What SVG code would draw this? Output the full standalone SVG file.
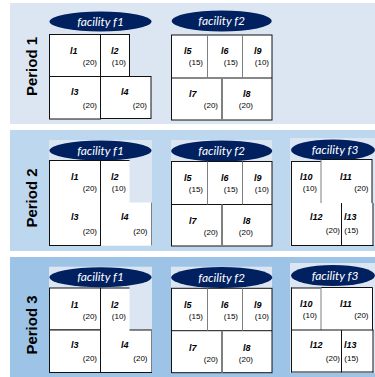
<svg xmlns="http://www.w3.org/2000/svg" width="375" height="377" viewBox="0 0 375 377">
<style>
.b1{fill:#dce6f2}.b2{fill:#bdd7ee}.b3{fill:#9dc3e6}
.panel{fill:#dce6f2}
.cell{fill:#fff;stroke:#111;stroke-width:1}
.wh{fill:#fff}
.ln{stroke:#111;stroke-width:1;fill:none}
.gr{stroke:#7f7f7f;stroke-width:1;fill:none}
.gr2{stroke:#7f7f7f;stroke-width:2;fill:none}
.ell{fill:#002060}
.ft{font-family:Lato,"Liberation Sans",sans-serif;font-style:italic;font-size:12px;fill:#fff;text-anchor:middle}
.lb{font-family:"Liberation Sans",sans-serif;font-style:italic;font-weight:bold;font-size:9px;fill:#000}
.nm{font-family:"Liberation Sans",sans-serif;font-size:8px;fill:#000;text-anchor:end}
.per{font-family:"Liberation Sans",sans-serif;font-weight:bold;font-size:15px;fill:#000;text-anchor:middle}
</style>
<rect class="b1" x="10" y="3" width="365" height="121"/>
<rect class="b2" x="10" y="130" width="365" height="121"/>
<rect class="b3" x="10" y="257" width="365" height="120"/>

<g id="period1-label"><text class="per" transform="translate(36.5,66.5) rotate(-90)">Period 1</text></g>
<g id="period2-label"><text class="per" transform="translate(36.5,198) rotate(-90)">Period 2</text></g>
<g id="period3-label"><text class="per" transform="translate(36.5,325) rotate(-90)">Period 3</text></g>

<!-- Period 1 -->
<g id="p1-f1">
<ellipse class="ell" cx="100.5" cy="21.5" rx="51" ry="10"/>
<text class="ft" x="100.5" y="25.5">facility f1</text>
<rect class="cell" x="49.5" y="34.5" width="51" height="42"/>
<rect class="cell" x="100.5" y="34.5" width="29" height="42"/>
<rect class="cell" x="49.5" y="76.5" width="51" height="42.5"/>
<rect class="cell" x="100.5" y="76.5" width="50.5" height="42"/>
<text class="lb" x="70" y="54">l1</text><text class="nm" x="97" y="65">(20)</text>
<text class="lb" x="111" y="54">l2</text><text class="nm" x="126" y="65">(10)</text>
<text class="lb" x="71" y="94.5">l3</text><text class="nm" x="97" y="107.5">(20)</text>
<text class="lb" x="121" y="94.5">l4</text><text class="nm" x="147" y="107.5">(20)</text>
</g>
<g id="p1-f2">
<ellipse class="ell" cx="221.7" cy="21" rx="50" ry="10.5"/>
<text class="ft" x="221.7" y="25">facility f2</text>
<rect class="cell" x="171.5" y="35" width="100.5" height="85"/>
<line class="ln" x1="171.5" y1="78" x2="272" y2="78"/>
<line class="gr" x1="207.5" y1="35" x2="207.5" y2="78"/>
<line class="gr" x1="242.5" y1="35" x2="242.5" y2="78"/>
<line class="gr2" x1="222" y1="78" x2="222" y2="120"/>
<text class="lb" x="184" y="54">l5</text><text class="nm" x="203" y="64.5">(15)</text>
<text class="lb" x="221" y="54">l6</text><text class="nm" x="238" y="64.5">(15)</text>
<text class="lb" x="254" y="54">l9</text><text class="nm" x="269" y="64.5">(10)</text>
<text class="lb" x="189" y="97">l7</text><text class="nm" x="218" y="108">(20)</text>
<text class="lb" x="243" y="97">l8</text><text class="nm" x="253" y="108">(20)</text>
</g>

<!-- Period 2 -->
<g id="p2-f1">
<rect class="panel" x="49" y="140" width="103" height="106"/>
<ellipse class="ell" cx="100.5" cy="150.5" rx="51" ry="10"/>
<text class="ft" x="100.5" y="154.5">facility f1</text>
<rect class="cell" x="49.5" y="160.5" width="51" height="85"/>
<polygon class="wh" points="101,161 129.5,161 129.5,202.5 152,202.5 152,245.5 101,245.5"/>
<line class="ln" x1="100.5" y1="160.5" x2="129.5" y2="160.5"/>
<line class="gr" x1="151.5" y1="202.5" x2="151.5" y2="245.5"/>
<text class="lb" x="71" y="180">l1</text><text class="nm" x="97" y="191">(20)</text>
<text class="lb" x="111" y="180">l2</text><text class="nm" x="126" y="191">(10)</text>
<text class="lb" x="71" y="220">l3</text><text class="nm" x="97" y="233.5">(20)</text>
<text class="lb" x="121" y="220">l4</text><text class="nm" x="147.5" y="233.5">(20)</text>
</g>
<g id="p2-f2">
<rect class="panel" x="171" y="140" width="101" height="106.5"/>
<ellipse class="ell" cx="221.7" cy="151" rx="50.5" ry="10.5"/>
<text class="ft" x="221.7" y="155">facility f2</text>
<rect class="cell" x="171.5" y="161.5" width="100.5" height="84.5"/>
<line class="ln" x1="171.5" y1="204.5" x2="272" y2="204.5"/>
<line class="gr" x1="207.5" y1="161.5" x2="207.5" y2="204.5"/>
<line class="gr" x1="242.5" y1="161.5" x2="242.5" y2="204.5"/>
<line class="gr2" x1="222" y1="204.5" x2="222" y2="246"/>
<text class="lb" x="184" y="181">l5</text><text class="nm" x="203" y="191.5">(15)</text>
<text class="lb" x="221" y="181">l6</text><text class="nm" x="238" y="191.5">(15)</text>
<text class="lb" x="254" y="181">l9</text><text class="nm" x="269" y="191.5">(10)</text>
<text class="lb" x="189" y="224">l7</text><text class="nm" x="218" y="235">(20)</text>
<text class="lb" x="243" y="224">l8</text><text class="nm" x="253" y="235">(20)</text>
</g>
<g id="p2-f3">
<rect class="panel" x="290" y="138" width="85" height="108"/>
<ellipse class="ell" cx="333" cy="150" rx="42" ry="10.5"/>
<text class="ft" x="335" y="154">facility f3</text>
<rect class="wh" x="291.5" y="161.5" width="30" height="42"/>
<rect class="wh" x="321" y="159.5" width="51" height="44"/>
<rect class="wh" x="291.5" y="203" width="82" height="42.5"/>
<line class="ln" x1="291.5" y1="161" x2="291.5" y2="246"/>
<line class="ln" x1="291" y1="161.5" x2="321" y2="161.5"/>
<line class="ln" x1="321" y1="159.5" x2="372" y2="159.5"/>
<line class="ln" x1="372" y1="159" x2="372" y2="203"/>
<line class="ln" x1="373" y1="203" x2="373" y2="246"/>
<line class="gr" x1="321" y1="159.5" x2="321" y2="203"/>
<line class="ln" x1="341.5" y1="203" x2="341.5" y2="245.5"/>
<line class="ln" x1="291" y1="245.5" x2="373.5" y2="245.5"/>
<text class="lb" x="300" y="180">l10</text><text class="nm" x="317" y="191">(10)</text>
<text class="lb" x="340" y="180">l11</text><text class="nm" x="368.5" y="191">(20)</text>
<text class="lb" x="310" y="220">l12</text><text class="nm" x="340" y="233">(20)</text>
<text class="lb" x="344" y="220">l13</text><text class="nm" x="358.5" y="233">(15)</text>
</g>

<!-- Period 3 -->
<g id="p3-f1">
<rect class="panel" x="49" y="266.7" width="103" height="106"/>
<ellipse class="ell" cx="100.5" cy="277.3" rx="51" ry="10"/>
<text class="ft" x="100.5" y="281.3">facility f1</text>
<rect class="cell" x="49.5" y="288" width="51" height="42"/>
<rect class="cell" x="49.5" y="330" width="51" height="42.5"/>
<polygon class="wh" points="101,288.5 129.5,288.5 129.5,330 152,330 152,372.5 101,372.5"/>
<line class="ln" x1="100.5" y1="288" x2="129.5" y2="288"/>
<line class="ln" x1="129.5" y1="330" x2="152" y2="330"/>
<line class="gr" x1="151.5" y1="330" x2="151.5" y2="372.5"/>
<line class="ln" x1="100.5" y1="372.5" x2="152" y2="372.5"/>
<text class="lb" x="71" y="307.5">l1</text><text class="nm" x="97" y="318.5">(20)</text>
<text class="lb" x="111" y="307.5">l2</text><text class="nm" x="126" y="318.5">(10)</text>
<text class="lb" x="71" y="347.5">l3</text><text class="nm" x="97" y="361">(20)</text>
<text class="lb" x="121" y="347.5">l4</text><text class="nm" x="147.5" y="361">(20)</text>
</g>
<g id="p3-f2">
<rect class="panel" x="171" y="266.7" width="101" height="106"/>
<ellipse class="ell" cx="221.7" cy="277.5" rx="50.5" ry="10.5"/>
<text class="ft" x="221.7" y="281.5">facility f2</text>
<rect class="cell" x="171.5" y="288.3" width="100.5" height="84.4"/>
<line class="ln" x1="171.5" y1="330.7" x2="272" y2="330.7"/>
<line class="gr" x1="207.5" y1="288.3" x2="207.5" y2="330.7"/>
<line class="gr" x1="242.5" y1="288.3" x2="242.5" y2="330.7"/>
<line class="gr2" x1="222" y1="330.7" x2="222" y2="372.7"/>
<text class="lb" x="184" y="308">l5</text><text class="nm" x="203" y="318.5">(15)</text>
<text class="lb" x="221" y="308">l6</text><text class="nm" x="238" y="318.5">(15)</text>
<text class="lb" x="254" y="308">l9</text><text class="nm" x="269" y="318.5">(10)</text>
<text class="lb" x="189" y="351">l7</text><text class="nm" x="218" y="362">(20)</text>
<text class="lb" x="243" y="351">l8</text><text class="nm" x="253" y="362">(20)</text>
</g>
<g id="p3-f3">
<rect class="panel" x="290" y="263" width="85" height="110"/>
<ellipse class="ell" cx="333" cy="275.5" rx="42" ry="10.5"/>
<text class="ft" x="335" y="279.5">facility f3</text>
<rect class="wh" x="291.5" y="288" width="82" height="84.5"/>
<line class="ln" x1="291.5" y1="287.5" x2="291.5" y2="372.5"/>
<line class="ln" x1="291" y1="288" x2="321" y2="288"/>
<line class="ln" x1="321" y1="287.5" x2="372.5" y2="287.5"/>
<line class="ln" x1="372.5" y1="287.5" x2="372.5" y2="330"/>
<line class="ln" x1="373" y1="330" x2="373" y2="372.5"/>
<line class="gr" x1="321" y1="287.5" x2="321" y2="330"/>
<line class="ln" x1="291" y1="330" x2="373.5" y2="330"/>
<line class="ln" x1="341.5" y1="330" x2="341.5" y2="372.5"/>
<line class="ln" x1="291" y1="372" x2="373.5" y2="372"/>
<text class="lb" x="300" y="307">l10</text><text class="nm" x="317" y="318">(10)</text>
<text class="lb" x="340" y="307">l11</text><text class="nm" x="368.5" y="318">(20)</text>
<text class="lb" x="310" y="347.5">l12</text><text class="nm" x="340" y="360.5">(20)</text>
<text class="lb" x="344" y="347.5">l13</text><text class="nm" x="358.5" y="360.5">(15)</text>
</g>
</svg>
